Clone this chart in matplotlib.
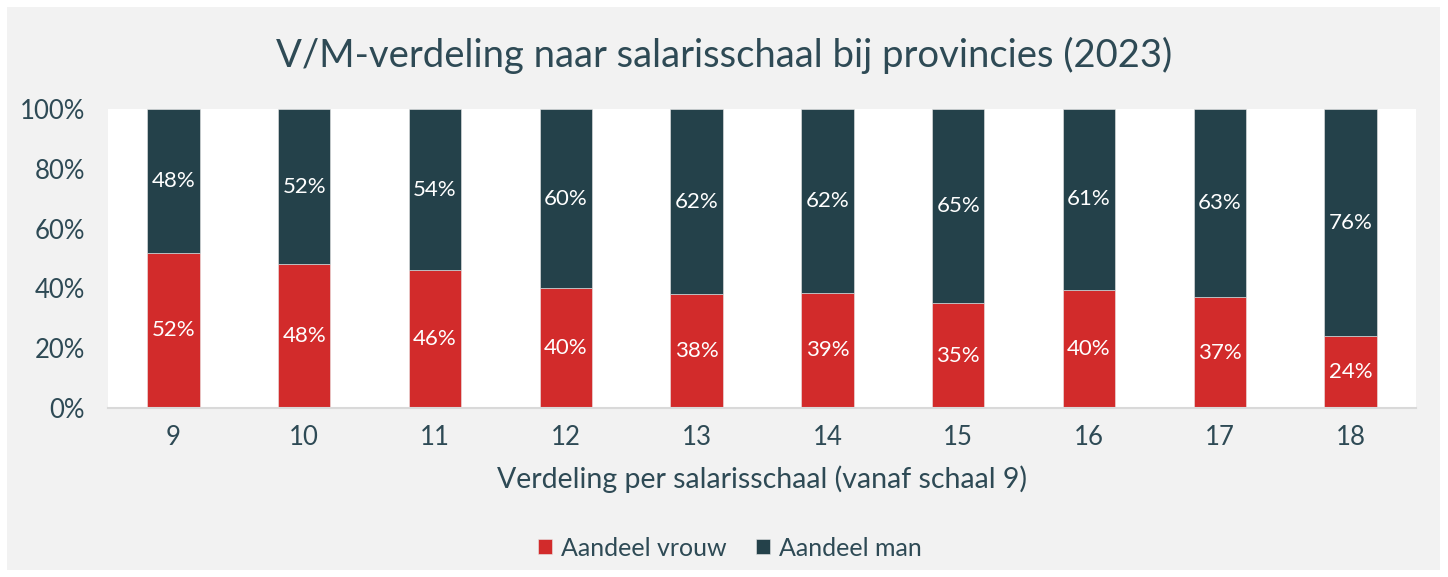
import numpy as np
import matplotlib
matplotlib.use("Agg")
import matplotlib.pyplot as plt
from matplotlib.patches import Rectangle

schalen = ['9', '10', '11', '12', '13', '14', '15', '16', '17', '18']
vrouw = [52, 48, 46, 40, 38, 39, 35, 40, 37, 24]
man = [48, 52, 54, 60, 62, 62, 65, 61, 63, 76]

rood = '#d22b2b'
donker = '#24414a'
tekst = '#2e4a55'

plt.rcParams['font.family'] = ['Lato', 'DejaVu Sans']

fig = plt.figure(figsize=(14.48, 5.77), dpi=100, facecolor='white')
fig.patches.append(Rectangle((7 / 1448, 7 / 577), 1433 / 1448, 563 / 577,
                             transform=fig.transFigure, facecolor='#f2f2f2',
                             edgecolor='none', zorder=-10))
ax = fig.add_axes([108 / 1448, 1 - 408 / 577, 1308 / 1448, 299 / 577])

x = np.arange(len(schalen))
v = np.array(vrouw, dtype=float)
m = np.array(man, dtype=float)
tot = v + m
# 100% gestapeld
b1 = ax.bar(x, v / tot * 100, width=0.4, color=rood, label='Aandeel vrouw',
            edgecolor='#e8e8e8', linewidth=0.4)
b2 = ax.bar(x, m / tot * 100, width=0.4, bottom=v / tot * 100, color=donker,
            label='Aandeel man', edgecolor='#e8e8e8', linewidth=0.4)
ax.bar_label(b1, labels=[f'{p}%' for p in vrouw], label_type='center',
             color='white', fontsize=16)
ax.bar_label(b2, labels=[f'{p}%' for p in man], label_type='center',
             color='white', fontsize=16)

ax.set_xlim(-0.5, len(schalen) - 0.5)
ax.set_ylim(0, 100)
ax.set_yticks(range(0, 101, 20))
ax.set_yticklabels([f'{t}%' for t in range(0, 101, 20)])
ax.set_xticks(x)
ax.set_xticklabels(schalen)
ax.tick_params(axis='both', length=0, labelsize=18.5, labelcolor=tekst)
ax.tick_params(axis='x', pad=12)
ax.tick_params(axis='y', pad=16.5)
for s in ['top', 'right', 'left']:
    ax.spines[s].set_visible(False)
ax.spines['bottom'].set_color('#d9d9d9')
ax.spines['bottom'].set_linewidth(1.5)

ax.set_xlabel('Verdeling per salarisschaal (vanaf schaal 9)', fontsize=20.5,
              color=tekst, labelpad=11)
fig.text(0.5, 1 - 55 / 577, 'V/M-verdeling naar salarisschaal bij provincies (2023)',
         ha='center', va='center', fontsize=27.5, color=tekst)

fig.legend(handles=[b1, b2], loc='center', bbox_to_anchor=(730 / 1448, 1 - 548 / 577),
           ncol=2, frameon=False, fontsize=18, labelcolor=tekst,
           handlelength=0.55, handleheight=0.55, handletextpad=0.35,
           columnspacing=1.2)

fig.savefig('out.png', dpi=100, facecolor=fig.get_facecolor())
